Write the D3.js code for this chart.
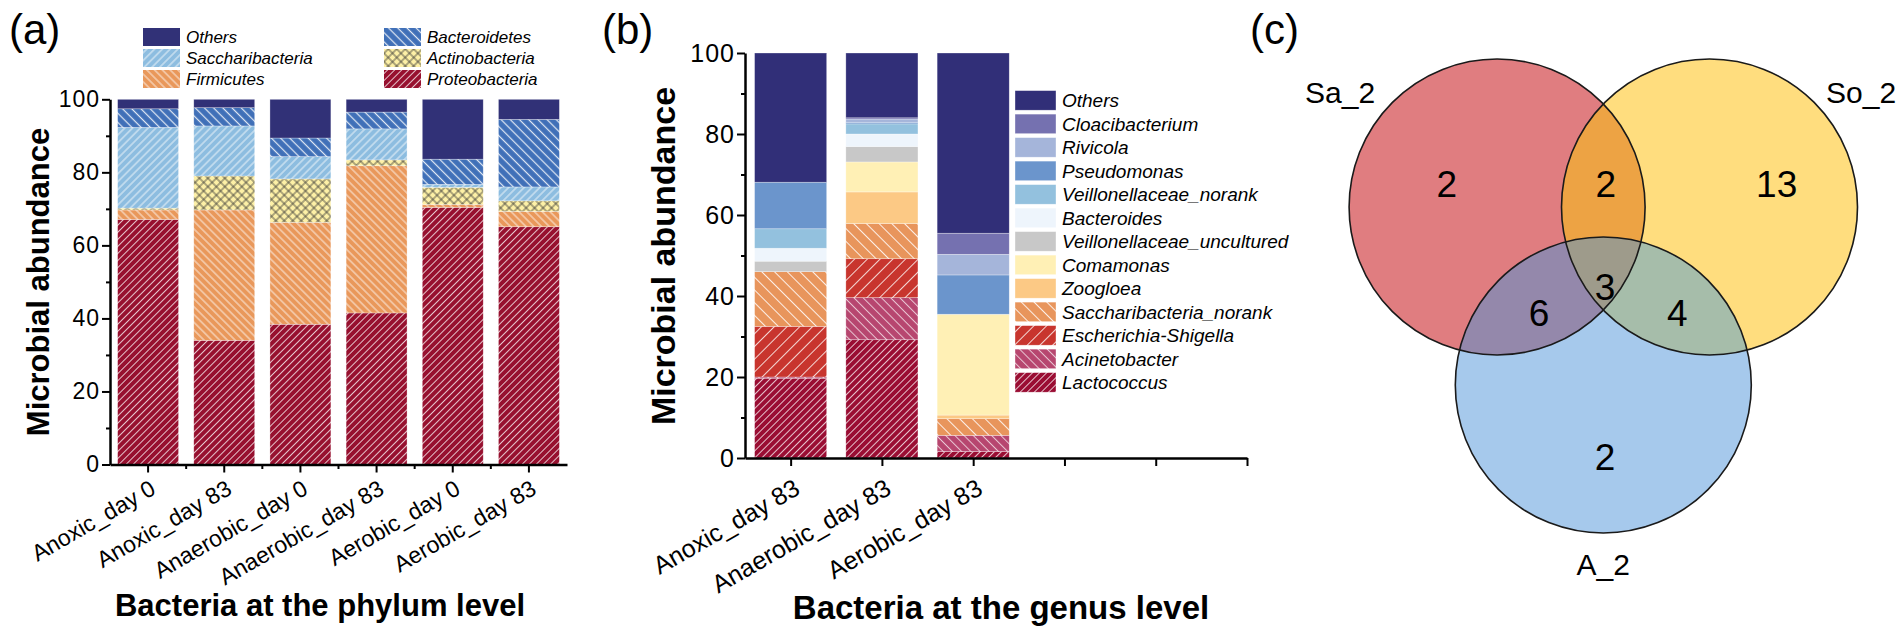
<!DOCTYPE html>
<html>
<head>
<meta charset="utf-8">
<script src="https://cdn.jsdelivr.net/npm/d3@7/dist/d3.min.js"></script>
<style>
  body { margin: 0; background: #fff; }
  svg { display: block; }
  text { font-family: "Liberation Sans", Arial, sans-serif; fill: #000; }
</style>
</head>
<body>
<div id="chart"></div>
<script>
// ---- (a) phylum level, % abundance per sample ----
const phylumSamples = ['Anoxic_day 0', 'Anoxic_day 83', 'Anaerobic_day 0', 'Anaerobic_day 83', 'Aerobic_day 0', 'Aerobic_day 83'];
const phylumTaxa = ['Proteobacteria', 'Firmicutes', 'Actinobacteria', 'Saccharibacteria', 'Bacteroidetes', 'Others'];
const proteobacteria = [67.1, 34.0, 38.4, 41.5, 70.4, 65.1];
const firmicutes = [2.6, 35.7, 27.9, 40.3, 0.8, 4.2];
const actinobacteria = [0.5, 9.3, 11.9, 1.6, 4.7, 2.9];
const saccharibacteria = [22.1, 13.7, 6.1, 8.5, 0.8, 3.8];
const bacteroidetes = [5.1, 5.0, 5.1, 4.6, 6.9, 18.5];
const phylumOthers = [2.6, 2.3, 10.6, 3.5, 16.4, 5.5];

// ---- (b) genus level ----
const genusSamples = ['Anoxic_day 83', 'Anaerobic_day 83', 'Aerobic_day 83'];
const genusTaxa = ['Lactococcus', 'Acinetobacter', 'Escherichia-Shigella', 'Saccharibacteria_norank', 'Zoogloea',
  'Comamonas', 'Veillonellaceae_uncultured', 'Bacteroides', 'Veillonellaceae_norank', 'Pseudomonas',
  'Rivicola', 'Cloacibacterium', 'Others'];
const lactococcus = [19.7, 29.2, 1.6];
const acinetobacter = [0.3, 10.4, 4.0];
const escherichia = [12.5, 9.6, 0];
const saccharibacteriaNorank = [13.5, 8.7, 4.1];
const zoogloea = [0, 7.8, 0.9];
const comamonas = [0, 7.4, 24.9];
const veillonellaceaeUncultured = [2.6, 3.8, 0];
const bacteroides = [3.2, 3.1, 0];
const veillonellaceaeNorank = [4.8, 2.5, 0];
const pseudomonas = [11.5, 0.4, 9.7];
const rivicola = [0, 0.8, 5.1];
const cloacibacterium = [0, 0.3, 5.2];
const genusOthers = [31.9, 16.0, 44.5];

// ---- (c) venn ----
const vennSets = ['Sa_2', 'So_2', 'A_2'];
const vennRegions = ['Sa_2', 'Sa_2&So_2', 'So_2', 'Sa_2&A_2', 'Sa_2&So_2&A_2', 'So_2&A_2', 'A_2'];
const vennCounts = [2, 2, 13, 6, 3, 4, 2];

const yTicks = [0, 20, 40, 60, 80, 100];
const yMinor = [10, 30, 50, 70, 90];

// ---- styles ----
// [background, angle, gap, line colour, line width, cross]
const phylumStyle = [
  ['#97102f', 45, 5, 'rgba(255,255,255,0.75)', 1, false],
  ['#e9985b', -45, 5.5, 'rgba(255,255,255,0.8)', 1, false],
  ['#fdf0a6', 45, 6, '#333', 0.8, true],
  ['#8dbde0', 45, 5.5, 'rgba(255,255,255,0.8)', 1, false],
  ['#4070b8', -45, 6.5, 'rgba(255,255,255,0.85)', 1.2, false],
  ['#313177', 0, 0, null, 0, false]
];
const genusStyle = [
  ['#9a0d33', 45, 5, 'rgba(255,255,255,0.75)', 1, false],
  ['#b7466f', -45, 6.5, 'rgba(255,255,255,0.7)', 1, false],
  ['#c8352e', 45, 9, 'rgba(255,255,255,0.8)', 1, false],
  ['#e8955c', -45, 9, 'rgba(255,255,255,0.85)', 1, false],
  ['#fcc985', 0, 0, null, 0, false],
  ['#fff0b5', 0, 0, null, 0, false],
  ['#c8c8c8', 0, 0, null, 0, false],
  ['#eef5fc', 0, 0, null, 0, false],
  ['#93c1de', 0, 0, null, 0, false],
  ['#6b95cc', 0, 0, null, 0, false],
  ['#a5b5da', 0, 0, null, 0, false],
  ['#7571b0', 0, 0, null, 0, false],
  ['#312f78', 0, 0, null, 0, false]
];

const svg = d3.select('#chart').append('svg')
  .attr('width', 1902)
  .attr('height', 639);
const defs = svg.append('defs');

// hatch pattern builder, returns a fill string
function makeFill(id, st) {
  const [bg, angle, gap, line, lw, cross] = st;
  if (!line) return bg;
  const p = defs.append('pattern')
    .attr('id', id)
    .attr('patternUnits', 'userSpaceOnUse')
    .attr('width', gap).attr('height', gap)
    .attr('patternTransform', `rotate(${angle})`);
  p.append('rect').attr('width', gap).attr('height', gap).attr('fill', bg);
  p.append('line')
    .attr('x1', gap / 2).attr('x2', gap / 2).attr('y1', 0).attr('y2', gap)
    .attr('stroke', line).attr('stroke-width', lw);
  if (cross) {
    p.append('line')
      .attr('y1', gap / 2).attr('y2', gap / 2).attr('x1', 0).attr('x2', gap)
      .attr('stroke', line).attr('stroke-width', lw);
  }
  return `url(#${id})`;
}

const phylumFill = phylumStyle.map((s, i) => makeFill('ph' + i, s));
const genusFill = genusStyle.map((s, i) => makeFill('ge' + i, s));

function buildRows(samples, taxa, series) {
  return samples.map((s, i) => {
    const row = { sample: s };
    taxa.forEach((t, k) => { row[t] = series[k][i]; });
    return row;
  });
}

function styleAxis(g, fontSize) {
  g.select('.domain').attr('stroke', '#000').attr('stroke-width', 2.5);
  g.selectAll('.tick line').attr('stroke', '#000').attr('stroke-width', 2);
  g.selectAll('.tick text')
    .style('font-size', fontSize + 'px')
    .style('letter-spacing', '1px')
    .attr('fill', '#000');
}

function drawYAxis(x, y, fontSize) {
  const g = svg.append('g').attr('transform', `translate(${x},0)`)
    .call(d3.axisLeft(y).tickValues(yTicks).tickSize(8).tickSizeOuter(0).tickPadding(2));
  styleAxis(g, fontSize);
  svg.append('g').attr('transform', `translate(${x},0)`)
    .call(d3.axisLeft(y).tickValues(yMinor).tickSize(4).tickFormat(''))
    .call(g2 => { g2.select('.domain').remove(); g2.selectAll('line').attr('stroke-width', 2); });
}

// tilted category labels, text end sits just right of / below the tick
function rotatedLabels(positions, labels, dx, yBase, fontSize) {
  svg.append('g').selectAll('text')
    .data(labels)
    .enter().append('text')
    .attr('transform', (d, i) => `translate(${positions[i] + dx},${yBase}) rotate(-30)`)
    .attr('text-anchor', 'end')
    .style('font-size', fontSize + 'px')
    .text(d => d);
}

// ================= panel (a) =================
const ya = d3.scaleLinear().domain([0, 100]).range([464.5, 99.3]);
const xa = d3.scaleBand().domain(phylumSamples).range([110, 567]).paddingInner(0.2).paddingOuter(0.1);

const phylumSeries = [proteobacteria, firmicutes, actinobacteria, saccharibacteria, bacteroidetes, phylumOthers];
const stackA = d3.stack().keys(phylumTaxa)(buildRows(phylumSamples, phylumTaxa, phylumSeries));

svg.append('g').selectAll('g')
  .data(stackA)
  .enter().append('g')
  .attr('fill', (d, i) => phylumFill[i])
  .selectAll('rect')
  .data(d => d)
  .enter().append('rect')
  .attr('x', d => xa(d.data.sample))
  .attr('width', xa.bandwidth())
  .attr('y', d => ya(d[1]))
  .attr('height', d => ya(d[0]) - ya(d[1]))
  .attr('stroke', 'rgba(255,255,255,0.5)')
  .attr('stroke-width', 0.6);

drawYAxis(110, ya, 23);

const xAxisA = svg.append('g').attr('transform', 'translate(0,464.5)')
  .call(d3.axisBottom(xa).tickSize(8).tickSizeOuter(0).tickFormat(''));
styleAxis(xAxisA, 23);
// minor ticks between categories
svg.append('g').selectAll('line')
  .data(phylumSamples.slice(1))
  .enter().append('line')
  .attr('x1', d => xa(d) - xa.step() * xa.paddingInner() / 2)
  .attr('x2', d => xa(d) - xa.step() * xa.paddingInner() / 2)
  .attr('y1', 464.5).attr('y2', 469)
  .attr('stroke', '#000').attr('stroke-width', 2);

rotatedLabels(phylumSamples.map(d => xa(d) + xa.bandwidth() / 2), phylumSamples, 9, 493, 23);

svg.append('text')
  .attr('transform', 'translate(49,282) rotate(-90)')
  .attr('text-anchor', 'middle')
  .style('font-size', '31px').style('font-weight', 'bold')
  .text('Microbial abundance');
svg.append('text')
  .attr('x', 320).attr('y', 616)
  .attr('text-anchor', 'middle')
  .style('font-size', '31px').style('font-weight', 'bold')
  .text('Bacteria at the phylum level');

// legend (a): reversed order, two columns
const legendA = phylumTaxa.slice().reverse();
const legA = svg.append('g').selectAll('g')
  .data(legendA)
  .enter().append('g')
  .attr('transform', (d, i) => `translate(${i % 2 === 0 ? 143 : 384},${28 + Math.floor(i / 2) * 21})`);
legA.append('rect')
  .attr('width', 37).attr('height', 18)
  .attr('fill', d => phylumFill[phylumTaxa.indexOf(d)]);
legA.append('text')
  .attr('x', 43).attr('y', 15)
  .style('font-size', '17px').style('font-style', 'italic')
  .text(d => d);

// ================= panel (b) =================
const yb = d3.scaleLinear().domain([0, 100]).range([458, 53]);
const xb = d3.scaleLinear().domain([0.5, 6]).range([745, 1247]);
const barW = (xb(1) - xb(0)) * 0.79;

const genusSeries = [lactococcus, acinetobacter, escherichia, saccharibacteriaNorank, zoogloea, comamonas,
  veillonellaceaeUncultured, bacteroides, veillonellaceaeNorank, pseudomonas, rivicola, cloacibacterium, genusOthers];
const stackB = d3.stack().keys(genusTaxa)(buildRows(genusSamples, genusTaxa, genusSeries));

svg.append('g').selectAll('g')
  .data(stackB)
  .enter().append('g')
  .attr('fill', (d, i) => genusFill[i])
  .selectAll('rect')
  .data(d => d)
  .enter().append('rect')
  .attr('x', d => xb(genusSamples.indexOf(d.data.sample) + 1) - barW / 2)
  .attr('width', barW)
  .attr('y', d => yb(d[1]))
  .attr('height', d => yb(d[0]) - yb(d[1]))
  .attr('stroke', 'rgba(255,255,255,0.5)')
  .attr('stroke-width', 0.6);

drawYAxis(745, yb, 25);

const xAxisB = svg.append('g').attr('transform', 'translate(0,458)')
  .call(d3.axisBottom(xb).tickValues([1, 2, 3, 4, 5, 6]).tickSize(8).tickSizeOuter(0).tickFormat(''));
styleAxis(xAxisB, 25);

rotatedLabels(genusSamples.map((d, i) => xb(i + 1)), genusSamples, 11, 493, 25);

svg.append('text')
  .attr('transform', 'translate(675,256) rotate(-90)')
  .attr('text-anchor', 'middle')
  .style('font-size', '34px').style('font-weight', 'bold')
  .text('Microbial abundance');
svg.append('text')
  .attr('x', 1001).attr('y', 619)
  .attr('text-anchor', 'middle')
  .style('font-size', '33px').style('font-weight', 'bold')
  .text('Bacteria at the genus level');

// legend (b)
const legendB = genusTaxa.slice().reverse();
const legB = svg.append('g').selectAll('g')
  .data(legendB)
  .enter().append('g')
  .attr('transform', (d, i) => `translate(1015,${90.6 + i * 23.5})`);
legB.append('rect')
  .attr('width', 41).attr('height', 19.6)
  .attr('fill', d => genusFill[genusTaxa.indexOf(d)])
  .attr('stroke', 'rgba(255,255,255,0.6)').attr('stroke-width', 0.6);
legB.append('text')
  .attr('x', 47).attr('y', 16.5)
  .style('font-size', '19px').style('font-style', 'italic')
  .text(d => d);

// ================= panel (c) venn =================
const vennR = 148;
const vennMid = 1603.3, vennTop = 207, vennGap = 212.4, vennDrop = 178;
const centers = [
  [vennMid - vennGap / 2, vennTop],
  [vennMid + vennGap / 2, vennTop],
  [vennMid, vennTop + vennDrop]
];
const vennBase = ['#e07d80', '#ffdd7e', '#a6c9ec'];
const vennOverlap = { 'Sa_2&So_2': '#eda344', 'Sa_2&A_2': '#9488ab', 'So_2&A_2': '#a6bdaa', 'Sa_2&So_2&A_2': '#9e9b8b' };

centers.forEach((c, i) => {
  defs.append('clipPath').attr('id', 'vc' + i)
    .append('circle').attr('cx', c[0]).attr('cy', c[1]).attr('r', vennR);
});

const venn = svg.append('g');
centers.forEach((c, i) => {
  venn.append('circle').attr('cx', c[0]).attr('cy', c[1]).attr('r', vennR).attr('fill', vennBase[i]);
});
function overlap(a, b, color) {
  venn.append('g').attr('clip-path', `url(#vc${a})`)
    .append('circle').attr('cx', centers[b][0]).attr('cy', centers[b][1]).attr('r', vennR).attr('fill', color);
}
overlap(0, 1, vennOverlap['Sa_2&So_2']);
overlap(0, 2, vennOverlap['Sa_2&A_2']);
overlap(1, 2, vennOverlap['So_2&A_2']);
venn.append('g').attr('clip-path', 'url(#vc0)')
  .append('g').attr('clip-path', 'url(#vc1)')
  .append('circle').attr('cx', centers[2][0]).attr('cy', centers[2][1]).attr('r', vennR)
  .attr('fill', vennOverlap['Sa_2&So_2&A_2']);
centers.forEach(c => {
  venn.append('circle').attr('cx', c[0]).attr('cy', c[1]).attr('r', vennR)
    .attr('fill', 'none').attr('stroke', '#1a1a1a').attr('stroke-width', 1.6);
});

// label offsets for each region, relative to the venn middle / top row
const regionOffsets = [[-156.6, -23.7], [2.4, -23.7], [173.4, -23.7], [-64.3, 106], [1.7, 80], [74, 106], [1.7, 249.7]];
venn.selectAll('text.count')
  .data(vennCounts)
  .enter().append('text')
  .attr('class', 'count')
  .attr('x', (d, i) => vennMid + regionOffsets[i][0])
  .attr('y', (d, i) => vennTop + regionOffsets[i][1] + 13.3)
  .attr('text-anchor', 'middle')
  .style('font-size', '37px')
  .text(d => d);

const setLabelPos = [[1305, 103, 'start'], [1826, 103, 'start'], [vennMid, 575, 'middle']];
venn.selectAll('text.set')
  .data(vennSets)
  .enter().append('text')
  .attr('class', 'set')
  .attr('x', (d, i) => setLabelPos[i][0])
  .attr('y', (d, i) => setLabelPos[i][1])
  .attr('text-anchor', (d, i) => setLabelPos[i][2])
  .style('font-size', '30px')
  .text(d => d);

// panel letters
[['(a)', 9], ['(b)', 602], ['(c)', 1250]].forEach(([t, x]) => {
  svg.append('text').attr('x', x).attr('y', 44).style('font-size', '42px').text(t);
});
</script>
</body>
</html>
